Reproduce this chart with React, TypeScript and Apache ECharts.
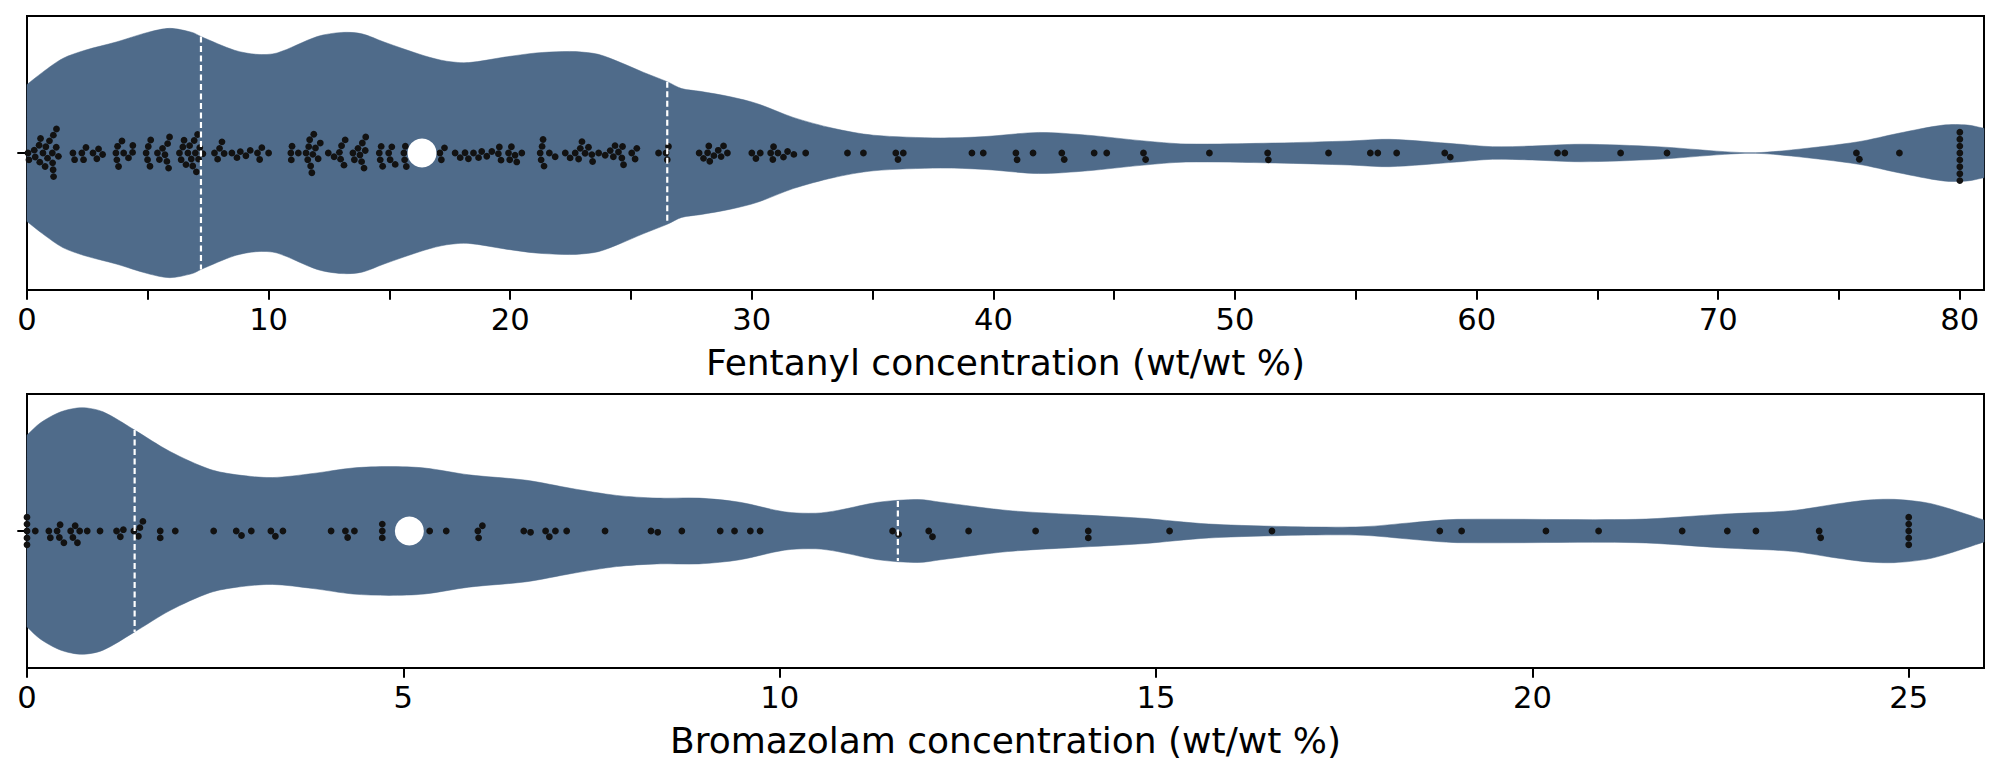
import React, { useEffect, useRef } from "react";
import * as echarts from "echarts";

// ---------- data ----------
const fentanylValues = [
  0.04, 0.08, 0.3, 0.34, 0.5, 0.53, 0.56, 0.66, 0.75, 0.78, 0.85, 0.93, 1.05, 1.06, 1.08, 1.09, 1.1, 1.21, 1.22, 1.3,
  1.9, 1.97, 2.27, 2.34, 2.44,
  2.73, 2.89, 2.96, 3.13,
  3.68, 3.72, 3.75, 3.79, 3.93, 4.0, 4.2, 4.37, 4.38,
  4.93, 4.99, 5.02, 5.09, 5.12, 5.4, 5.48, 5.61, 5.71, 5.79, 5.82, 5.86, 5.9,
  6.31, 6.38, 6.45, 6.5, 6.58, 6.66, 6.73, 6.8, 6.86, 6.92, 6.97, 7.01, 7.06, 7.1, 7.15, 7.28,
  7.76, 7.89, 7.97, 8.07, 8.16,
  8.48, 8.69, 8.83, 9.06, 9.24, 9.54, 9.63, 9.72, 10.0,
  10.92, 10.94, 10.97, 11.23, 11.55, 11.62, 11.66, 11.7, 11.74, 11.79, 11.83, 11.87, 11.94, 12.05, 12.14,
  12.47, 12.71, 12.93, 12.98, 13.02, 13.12, 13.17,
  13.49, 13.55, 13.7, 13.78, 13.85, 13.88, 13.95, 14.0, 14.02,
  14.58, 14.62, 14.66, 14.72, 14.97, 15.03, 15.1, 15.24, 15.6, 15.63, 15.66, 15.7,
  16.35,
  17.09, 17.15, 17.28,
  17.72, 17.93, 18.13, 18.27, 18.48, 18.69, 18.82, 19.03, 19.24, 19.51, 19.55, 19.62, 19.93, 19.98, 20.05, 20.2, 20.27, 20.48,
  21.24, 21.28, 21.32, 21.36, 21.4, 21.62, 21.86,
  22.28, 22.48, 22.69, 22.83, 22.9, 22.97, 23.1, 23.24, 23.38, 23.41, 23.66, 23.93, 24.14, 24.27, 24.34, 24.48, 24.62, 24.65, 24.69, 25.03, 25.17, 25.24,
  26.14, 26.45, 26.5, 26.55,
  27.82, 28.0, 28.17, 28.22, 28.26, 28.43, 28.61, 28.73, 28.83, 28.99,
  30.0, 30.17, 30.35, 30.78, 30.87, 30.9, 31.08, 31.31, 31.48, 31.74, 32.23,
  33.96, 34.62,
  35.96, 36.05, 36.27,
  39.11, 39.58,
  40.93, 40.98, 41.64,
  42.83, 42.93,
  44.17, 44.69,
  46.21, 46.3,
  48.94,
  51.35, 51.38,
  53.87,
  55.6, 55.91,
  56.69,
  58.68, 58.91,
  63.35, 63.65,
  65.96,
  67.88,
  75.72, 75.84,
  77.5,
  80, 80, 80, 80, 80, 80, 80, 80,
];

const bromazolamValues = [
  0, 0, 0, 0, 0, 0.11, 0.29, 0.31, 0.4, 0.43, 0.44, 0.49, 0.58, 0.61, 0.64, 0.67, 0.7, 0.8, 0.97,
  1.19, 1.24, 1.28, 1.42, 1.48, 1.5, 1.54, 1.77, 1.77, 1.97, 2.48, 2.78, 2.85, 2.98, 3.24, 3.3, 3.4,
  4.04, 4.23, 4.26, 4.35, 4.72, 4.72, 4.72, 5.35, 5.57, 5.99, 6.0, 6.05, 6.6, 6.69, 6.89, 6.94, 7.02, 7.17,
  7.68, 8.29, 8.38, 8.7, 9.21, 9.4, 9.61, 9.74, 11.5, 11.58, 11.98, 12.03, 12.51, 13.4, 14.1, 14.1,
  15.18, 16.54, 18.77, 19.06, 20.18, 20.88, 21.99, 22.59, 22.97, 23.81, 23.83,
  25, 25, 25, 25, 25,
];

// violin outline: position along the axis and half-width (fraction of half the panel height)
const fentanylViolinX = [
  0, 0.65, 1.48, 2.4, 3.69, 4.99, 5.91, 6.84, 7.2, 8.59, 9.51, 10.35, 12.01, 13.03, 13.86, 14.78, 16.44, 17.37,
  18.29, 19.77, 21.06, 22.17, 22.73, 23.65, 24.57, 25.5, 26.5, 27.1, 27.86, 29.12, 30.23, 31.71, 33.37, 35.03,
  37.81, 39.65, 41.87, 43.9, 46.12, 47.97, 51.67, 54.77, 56.4, 59.17, 60.65, 62.3, 64.33, 67.48, 70.25, 71.54,
  73.02, 75.8, 77.46, 79.32, 80.32, 81,
];
const fentanylViolinHalfWidth = [
  0.5, 0.59, 0.69, 0.75, 0.81, 0.88, 0.91, 0.88, 0.85, 0.75, 0.72, 0.73, 0.85, 0.88, 0.87, 0.81, 0.71, 0.67,
  0.66, 0.7, 0.73, 0.74, 0.74, 0.72, 0.66, 0.59, 0.52, 0.47, 0.45, 0.41, 0.36, 0.26, 0.18, 0.13,
  0.11, 0.12, 0.15, 0.13, 0.09, 0.066, 0.073, 0.088, 0.1, 0.066, 0.046, 0.051, 0.064, 0.046, 0.01, 0.002,
  0.022, 0.082, 0.144, 0.204, 0.204, 0.18,
];
const bromazolamViolinX = [
  0, 0.18, 0.45, 0.73, 1.01, 1.42, 1.9, 2.43, 2.79, 3.26, 3.8, 4.33, 4.81, 5.28, 5.87, 6.64, 7.24, 7.83, 8.37,
  8.93, 9.47, 10.06, 10.48, 10.77, 11.31, 11.84, 12.14, 13.03, 13.92, 14.81, 15.7, 16.88, 17.75, 18.4, 19.0,
  21.37, 22.56, 23.44, 24.04, 24.46, 24.81, 25.23, 25.52, 26,
];
const bromazolamViolinHalfWidth = [
  0.7, 0.79, 0.87, 0.9, 0.87, 0.74, 0.58, 0.45, 0.41, 0.39, 0.42, 0.46, 0.47, 0.46, 0.41, 0.37, 0.31, 0.26, 0.24,
  0.24, 0.21, 0.14, 0.13, 0.15, 0.21, 0.23, 0.21, 0.15, 0.12, 0.093, 0.051, 0.031, 0.031, 0.061, 0.085,
  0.085, 0.124, 0.148, 0.197, 0.226, 0.231, 0.207, 0.166, 0.08,
];

const fentanylQuartiles = [7.2, 26.5];
const fentanylMedian = 16.35;
const bromazolamQuartiles = [1.43, 11.57];
const bromazolamMedian = 5.08;

const fentanylTicks = [0, 5, 10, 15, 20, 25, 30, 35, 40, 45, 50, 55, 60, 65, 70, 75, 80];
const fentanylTickLabels = [0, 10, 20, 30, 40, 50, 60, 70, 80];
const bromazolamTicks = [0, 5, 10, 15, 20, 25];
const bromazolamTickLabels = [0, 5, 10, 15, 20, 25];

const fentanylAxisMax = 81;
const bromazolamAxisMax = 26;

const fentanylTitle = "Fentanyl concentration (wt/wt %)";
const bromazolamTitle = "Bromazolam concentration (wt/wt %)";

// ---------- styling ----------
const VIOLIN = "#4f6b8a";
const DOT = "#121212";
const FONT = "DejaVu Sans";

function interp(xs: number[], ys: number[], x: number): number {
  if (x <= xs[0]) return ys[0];
  for (let i = 1; i < xs.length; i++) {
    if (x <= xs[i]) {
      const t = (x - xs[i - 1]) / (xs[i] - xs[i - 1]);
      return ys[i - 1] + t * (ys[i] - ys[i - 1]);
    }
  }
  return ys[ys.length - 1];
}

// beeswarm layout (pixel space); returns vertical offsets in px, positive = up
function swarmOffsets(values: number[], pxPerUnit: number, d: number): number[] {
  const order = values.map((_, i) => i).sort((a, b) => values[a] - values[b]);
  const placed: { x: number; y: number }[] = [];
  const out = new Array(values.length).fill(0);
  for (const i of order) {
    const x = values[i] * pxPerUnit;
    const nb = placed.filter((p) => Math.abs(p.x - x) < d);
    const cands = [0];
    for (const n of nb) {
      const dx = x - n.x;
      const dy = Math.sqrt(Math.max(d * d - dx * dx, 0));
      cands.push(n.y + dy, n.y - dy);
    }
    cands.sort((a, b) => Math.abs(a) - Math.abs(b) || a - b);
    let chosen = cands[0];
    for (const c of cands) {
      if (nb.every((n) => (n.x - x) ** 2 + (n.y - c) ** 2 >= d * d - 1e-6)) {
        chosen = c;
        break;
      }
    }
    placed.push({ x, y: chosen });
    out[i] = chosen;
  }
  return out;
}

export default function App() {
  const ref = useRef<HTMLDivElement>(null);

  useEffect(() => {
    if (!ref.current) return;
    const chart = echarts.init(ref.current, null, { renderer: "svg" });

    const panels = [
      {
        values: fentanylValues,
        vx: fentanylViolinX,
        vw: fentanylViolinHalfWidth,
        quart: fentanylQuartiles,
        median: fentanylMedian,
        ticks: fentanylTicks,
        labels: fentanylTickLabels,
        max: fentanylAxisMax,
        title: fentanylTitle,
        top: 16,
      },
      {
        values: bromazolamValues,
        vx: bromazolamViolinX,
        vw: bromazolamViolinHalfWidth,
        quart: bromazolamQuartiles,
        median: bromazolamMedian,
        ticks: bromazolamTicks,
        labels: bromazolamTickLabels,
        max: bromazolamAxisMax,
        title: bromazolamTitle,
        top: 394,
      },
    ];

    const grid = panels.map((p) => ({
      left: 27,
      width: 1957,
      top: p.top,
      height: 274,
      show: true,
      borderColor: "#000",
      borderWidth: 2,
      backgroundColor: "#fff",
    }));

    const xAxis = panels.map((p, i) => ({
      type: "value",
      gridIndex: i,
      min: 0,
      max: p.max,
      name: p.title,
      nameLocation: "middle",
      nameGap: 54,
      nameTextStyle: { fontSize: 36, color: "#000", fontFamily: FONT },
      axisLine: { show: true, onZero: false, lineStyle: { color: "#000", width: 2 } },
      axisTick: { show: true, customValues: p.ticks, length: 9.7, lineStyle: { color: "#000", width: 2 } },
      axisLabel: { show: true, customValues: p.labels, fontSize: 30.6, color: "#000", fontFamily: FONT, margin: 14 },
      splitLine: { show: false },
    }));

    const yAxis = panels.map((_, i) => ({
      type: "value",
      gridIndex: i,
      min: -1,
      max: 1,
      axisLine: { show: true, lineStyle: { color: "#000", width: 2 } },
      axisTick: { show: true, customValues: [0], length: 9.7, lineStyle: { color: "#000", width: 2 } },
      axisLabel: { show: false },
      splitLine: { show: false },
    }));

    chart.setOption({ animation: false, backgroundColor: "#fff", grid, xAxis, yAxis, series: [] });

    const series: any[] = [];
    panels.forEach((p, i) => {
      const x0 = chart.convertToPixel({ xAxisIndex: i } as any, 0) as unknown as number;
      const x1 = chart.convertToPixel({ xAxisIndex: i } as any, 10) as unknown as number;
      const y0 = chart.convertToPixel({ yAxisIndex: i } as any, 0) as unknown as number;
      const y1 = chart.convertToPixel({ yAxisIndex: i } as any, 1) as unknown as number;
      const pxX = (x1 - x0) / 10;
      const pxY = y0 - y1;
      const offs = swarmOffsets(p.values, pxX, 6.9);
      const dots = p.values.map((v, k) => [v, offs[k] / pxY]);

      series.push({
        type: "custom",
        xAxisIndex: i,
        yAxisIndex: i,
        z: 1,
        silent: true,
        data: [[0, 0]],
        renderItem: (_params: any, api: any) => {
          const topEdge = p.vx.map((x, k) => api.coord([x, p.vw[k]]));
          const bottomEdge = p.vx.map((x, k) => api.coord([x, -p.vw[k]])).reverse();
          // repeat the end points so that the cut ends keep sharp corners
          const n = topEdge.length;
          const pts = [
            topEdge[0],
            ...topEdge,
            topEdge[n - 1],
            bottomEdge[0],
            ...bottomEdge,
            bottomEdge[n - 1],
          ];
          return {
            type: "polygon",
            shape: { points: pts, smooth: 0.3 },
            style: { fill: VIOLIN, stroke: VIOLIN, lineWidth: 0.5 },
          };
        },
      });
      series.push({
        type: "scatter",
        xAxisIndex: i,
        yAxisIndex: i,
        z: 2,
        clip: false,
        symbol: "circle",
        symbolSize: 6.8,
        itemStyle: { color: DOT, opacity: 1 },
        data: dots,
      });
      series.push({
        type: "custom",
        xAxisIndex: i,
        yAxisIndex: i,
        z: 3,
        silent: true,
        data: p.quart.map((q) => [q, 0]),
        renderItem: (_params: any, api: any) => {
          const q = api.value(0);
          const hw = interp(p.vx, p.vw, q);
          const a = api.coord([q, hw]);
          const b = api.coord([q, -hw]);
          return {
            type: "line",
            shape: { x1: a[0], y1: a[1], x2: b[0], y2: b[1] },
            style: { stroke: "#fff", lineWidth: 2.2, lineDash: [6, 3.5] },
          };
        },
      });
      series.push({
        type: "scatter",
        xAxisIndex: i,
        yAxisIndex: i,
        z: 4,
        symbol: "circle",
        symbolSize: 29,
        itemStyle: { color: "#fff", opacity: 1 },
        data: [[p.median, 0]],
      });
    });

    chart.setOption({ series });

    return () => chart.dispose();
  }, []);

  return (
    <div
      ref={ref}
      style={{ position: "absolute", left: 0, top: 0, width: 2000, height: 776, background: "#fff" }}
    />
  );
}
